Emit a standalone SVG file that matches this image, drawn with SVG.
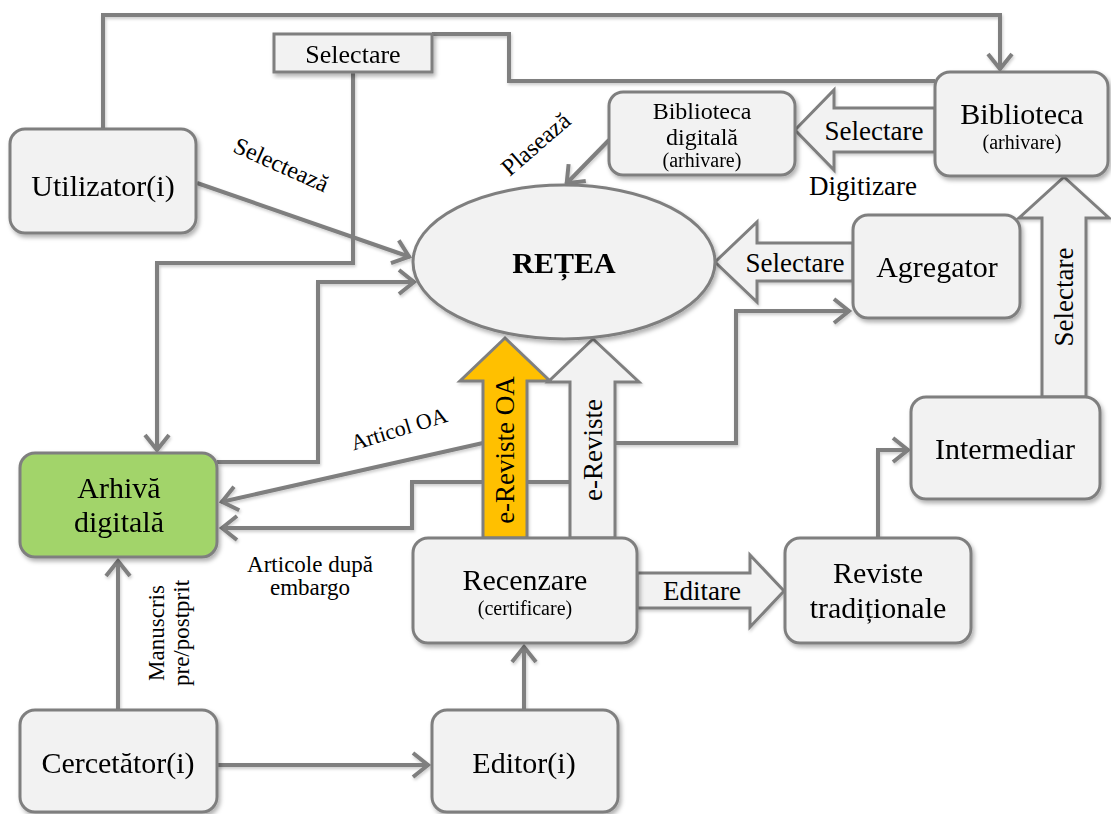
<svg xmlns="http://www.w3.org/2000/svg" width="1111" height="814" viewBox="0 0 1111 814">
<defs>
<style>
.box{fill:#f2f2f2;stroke:#7f7f7f;stroke-width:3}
.t{font-family:"Liberation Serif","Times New Roman",serif;fill:#000;text-anchor:middle}
.big{font-size:30px}
.mid{font-size:27px}
.sm{font-size:20px}
.ln{fill:none;stroke:#7f7f7f;stroke-width:4}
.blk{fill:#f2f2f2;stroke:#7f7f7f;stroke-width:3;stroke-linejoin:miter}
</style>
<filter id="sh" x="-10%" y="-10%" width="130%" height="130%">
<feDropShadow dx="2" dy="3" stdDeviation="2" flood-color="#000" flood-opacity="0.3"/>
</filter>
<filter id="lsh" x="-5%" y="-5%" width="110%" height="110%">
<feDropShadow dx="1" dy="2" stdDeviation="1.5" flood-color="#000" flood-opacity="0.2"/>
</filter>
<marker id="ah" markerUnits="userSpaceOnUse" markerWidth="36" markerHeight="36" viewBox="-24 -18 36 36" refX="1" refY="0" orient="auto">
<path d="M-15,-12 L0,0 L-15,12" fill="none" stroke="#7f7f7f" stroke-width="4"/>
</marker>
</defs>
<rect width="1111" height="814" fill="#fff"/>

<g id="connectors">
<g filter="url(#lsh)">
<path class="ln" d="M103,129 V15 H1000 V70" marker-end="url(#ah)"/>
<path class="ln" d="M935,81 H509 V34 H432"/>
<path class="ln" d="M353,72 V263 H157 V451" marker-end="url(#ah)"/>
<path class="ln" d="M197,183 L410,257" marker-end="url(#ah)"/>
<path class="ln" d="M217,462 H318 V282 H415" marker-end="url(#ah)"/>
<path class="ln" d="M609,140 L566,184" marker-end="url(#ah)"/>
<path class="ln" d="M483,443 L221,502" marker-end="url(#ah)"/>
<path class="ln" d="M570,482 H412 V528 H221" marker-end="url(#ah)"/>
<path class="ln" d="M615,443 H736 V311 H850" marker-end="url(#ah)"/>
<path class="ln" d="M878,538 V450 H909" marker-end="url(#ah)"/>
<path class="ln" d="M524,710 V646" marker-end="url(#ah)"/>
<path class="ln" d="M217,765 H429" marker-end="url(#ah)"/>
<path class="ln" d="M118,710 V560" marker-end="url(#ah)"/>

<polygon class="blk" points="935,108 834,108 834,90 795,130 834,170 834,152 935,152"/>
<polygon class="blk" points="853,243 757,243 757,222 715,262 757,302 757,281 853,281"/>
<polygon class="blk" points="1042,397 1042,218 1019,218 1064,177 1109,218 1086,218 1086,397"/>
<polygon class="blk" points="570,538 570,382 548,382 593,339 639,382 615,382 615,538"/>
<polygon class="blk" points="483,538 483,381 460,381 505,338 550,381 527,381 527,538" style="fill:#ffc000"/>
<polygon class="blk" points="637,573 750,573 750,555 784,591 750,627 750,608 637,608"/>
</g>
<text class="t mid" x="874" y="140">Selectare</text>
<text class="t mid" x="795" y="272">Selectare</text>
<text class="t mid" transform="translate(1073,297) rotate(-90)">Selectare</text>
<text class="t mid" transform="translate(602,450) rotate(-90)">e-Reviste</text>
<text class="t mid" transform="translate(514,450) rotate(-90)">e-Reviste OA</text>
<text class="t mid" x="702" y="600">Editare</text>

<text class="t" style="font-size:24px" transform="translate(278,172) rotate(24)">Selectează</text>
<text class="t" style="font-size:24px" transform="translate(541,150) rotate(-41)">Plasează</text>
<text class="t" style="font-size:22px" transform="translate(401,436) rotate(-17)">Articol OA</text>
<text class="t" style="font-size:23px" x="310" y="572">Articole după</text>
<text class="t" style="font-size:23px" x="310" y="595">embargo</text>
<text class="t" style="font-size:23px" transform="translate(164,633) rotate(-90)">Manuscris</text>
<text class="t" style="font-size:23px" transform="translate(189,633) rotate(-90)">pre/postprit</text>
<text class="t mid" x="863" y="195">Digitizare</text>
</g>

<g id="utilizator" filter="url(#sh)">
<rect class="box" x="10" y="129" width="186" height="104" rx="15"/>
<text class="t big" x="103" y="196">Utilizator(i)</text>
</g>
<g id="selectare-box" filter="url(#sh)">
<rect class="box" x="274" y="34" width="158" height="38"/>
<text class="t" style="font-size:26px" x="353" y="63">Selectare</text>
</g>
<g id="biblioteca-digitala" filter="url(#sh)">
<rect class="box" x="609" y="92" width="186" height="83" rx="14"/>
<text class="t" style="font-size:24px" x="702" y="119">Biblioteca</text>
<text class="t" style="font-size:24px" x="702" y="145">digitală</text>
<text class="t sm" x="702" y="167">(arhivare)</text>
</g>
<g id="biblioteca" filter="url(#sh)">
<rect class="box" x="935" y="72" width="173" height="104" rx="15"/>
<text class="t big" x="1022" y="124">Biblioteca</text>
<text class="t sm" x="1022" y="149">(arhivare)</text>
</g>
<g id="retea" filter="url(#sh)">
<ellipse cx="564" cy="262" rx="151" ry="77" class="box"/>
<text class="t big" x="564" y="273" font-weight="bold">REȚEA</text>
</g>
<g id="agregator" filter="url(#sh)">
<rect class="box" x="853" y="215" width="167" height="103" rx="15"/>
<text class="t big" x="937" y="277">Agregator</text>
</g>
<g id="intermediar" filter="url(#sh)">
<rect class="box" x="911" y="397" width="189" height="102" rx="15"/>
<text class="t big" x="1005" y="459">Intermediar</text>
</g>
<g id="arhiva-digitala" filter="url(#sh)">
<rect class="box" x="20" y="453" width="197" height="104" rx="15" style="fill:#a2d46b"/>
<text class="t big" x="119" y="498">Arhivă</text>
<text class="t big" x="119" y="532">digitală</text>
</g>
<g id="recenzare" filter="url(#sh)">
<rect class="box" x="413" y="538" width="224" height="105" rx="15"/>
<text class="t big" x="525" y="590">Recenzare</text>
<text class="t sm" x="525" y="615">(certificare)</text>
</g>
<g id="reviste-traditionale" filter="url(#sh)">
<rect class="box" x="785" y="538" width="186" height="105" rx="15"/>
<text class="t big" x="878" y="583">Reviste</text>
<text class="t big" x="878" y="618">tradiționale</text>
</g>
<g id="cercetator" filter="url(#sh)">
<rect class="box" x="20" y="710" width="197" height="102" rx="15"/>
<text class="t big" x="118" y="773">Cercetător(i)</text>
</g>
<g id="editor" filter="url(#sh)">
<rect class="box" x="432" y="710" width="186" height="102" rx="15"/>
<text class="t big" x="524" y="773">Editor(i)</text>
</g>
</svg>
